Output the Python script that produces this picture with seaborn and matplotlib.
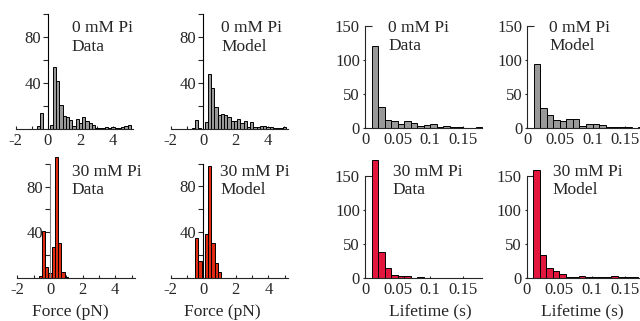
import numpy as np
import pandas as pd
import seaborn as sns
import matplotlib.pyplot as plt

sns.set_style('ticks')
plt.rcParams['font.family'] = ['Liberation Serif', 'DejaVu Serif']
plt.rcParams['font.size'] = 12
plt.rcParams['axes.unicode_minus'] = False

# force histograms, bin centers in pN (bin width 0.2)
force_centers_0 = [-0.6, -0.4, -0.2, 0.0, 0.2, 0.4, 0.6, 0.8, 1.0, 1.2,
                   1.4, 1.6, 1.8, 2.0, 2.2, 2.4, 2.6, 2.8, 3.0, 3.2,
                   3.4, 3.6, 3.8, 4.0, 4.2, 4.4, 4.6, 4.8, 5.0]
force_0_data = [3, 13.5, 0, 0, 3.5, 54, 42, 21, 11.5, 10,
                8, 3, 8.5, 5.5, 10, 7, 5.5, 3.5, 1, 1,
                0.5, 2, 1, 2, 0.5, 1, 2, 2.5, 3.5]
force_0_model = [0.5, 7, 0.5, 0, 5.5, 48, 35, 19, 11.5, 13,
                 11.5, 10, 6.5, 6.5, 8.5, 4.5, 6.5, 1.5, 5.5, 1.5,
                 1.5, 2.5, 2, 1.5, 1, 0.5, 0.5, 0.5, 1]
force_centers_30 = [-0.6, -0.4, -0.2, 0.0, 0.2, 0.4, 0.6, 0.8, 1.0]
force_30_data = [1.5, 41, 10, 4, 27.5, 106, 31, 5, 1]
force_30_model = [0, 35, 15, 0, 38.5, 97.5, 30.5, 12.5, 5]

# lifetime histograms, bin centers in s (bin width 0.01)
life_centers = [0.015, 0.025, 0.035, 0.045, 0.055, 0.065, 0.075, 0.085, 0.095,
                0.105, 0.115, 0.125, 0.135, 0.145, 0.155, 0.165, 0.175]
life_0_data = [120, 31, 12, 10, 6, 10, 8, 4, 5, 7, 2, 3, 2, 2, 1, 0, 2]
life_0_model = [94, 29, 20, 12, 11, 13, 13, 4, 6, 6, 5, 2, 2, 2, 2, 1, 2]
life_30_data = [173, 38, 14, 3.5, 2, 2, 0, 1, 0, 0, 0, 0, 0, 0, 0, 0, 0]
life_30_model = [159, 33, 15, 10, 5, 1, 1, 3, 1, 0.5, 1, 1, 2, 1, 1, 1, 0]

GRAY = '#999999'
FORCE_RED = '#e02a12'
LIFE_RED = '#e3173e'

W, H = 640, 321
fig = plt.figure(figsize=(W / 100, H / 100), dpi=100)


def px_axes(left, top, right, bottom):
    return fig.add_axes([left / W, 1 - bottom / H, (right - left) / W, (bottom - top) / H])


def label_at(ax, text, x, y):
    ax.set_xlabel(text, fontsize=12.5)
    ax.xaxis.set_label_coords(x / W, 1 - y / H, transform=fig.transFigure)


def force_panel(ax, centers, counts, color, spine_color='black'):
    step = 0.2
    sns.histplot(x=centers, weights=counts, bins=len(centers),
                 binrange=(centers[0] - step / 2, centers[-1] + step / 2),
                 color=color, edgecolor='black', linewidth=0.7, alpha=1,
                 clip_on=False, ax=ax)
    ax.set_xlim(-2, 5.2)
    ax.set_ylim(0, 100)
    for s in ['top', 'right']:
        ax.spines[s].set_visible(False)
    ax.spines['left'].set_position(('data', 0))
    ax.spines['left'].set_color(spine_color)
    ax.set_xticks([-2, 0, 2, 4], labels=['-2', '0', '2', '4'])
    ax.set_xticks([-1, 1, 3, 5], minor=True)
    ax.set_yticks([40, 80], labels=['40', '80'])
    ax.set_yticks([20, 60, 100], minor=True)
    ax.tick_params(axis='x', which='both', direction='in', length=2.4, width=0.8, pad=3)
    ax.tick_params(axis='y', which='both', direction='out', length=3.6, width=0.8, pad=1.5)
    ax.set_ylabel('')
    ax.set_xlabel('')


def life_panel(ax, counts, color):
    step = 0.01
    sns.histplot(x=life_centers, weights=counts, bins=len(life_centers),
                 binrange=(life_centers[0] - step / 2, life_centers[-1] + step / 2),
                 color=color, edgecolor='black', linewidth=0.7, alpha=1,
                 clip_on=False, ax=ax)
    ax.set_xlim(0, 0.18)
    ax.set_ylim(0, 150)
    for s in ['top', 'right']:
        ax.spines[s].set_visible(False)
    ax.set_xticks([0, 0.05, 0.1, 0.15], labels=['0', '0.05', '0.1', '0.15'])
    ax.set_yticks([0, 50, 100], labels=['0', '50', '100'])
    ax.set_yticks([150], labels=['150'], minor=True)
    ax.tick_params(axis='x', which='both', direction='in', length=1.8, width=0.8, pad=3)
    ax.tick_params(axis='y', which='major', direction='out', length=1.7, width=0.8, pad=2)
    ax.tick_params(axis='y', which='minor', direction='in', length=4.7, width=0.8, pad=3.7)
    ax.set_ylabel('')
    ax.set_xlabel('')


def note(x, y1, y2, line1, line2):
    fig.text(x / W, 1 - y1 / H, line1, va='baseline', ha='left', fontsize=12.5)
    fig.text(x / W, 1 - y2 / H, line2, va='baseline', ha='left', fontsize=12.5)


ax1 = px_axes(15.5, 14, 132.5, 129)
force_panel(ax1, force_centers_0, force_0_data, GRAY)
note(71.7, 32, 51, '0 mM Pi', 'Data')

ax2 = px_axes(170.5, 14, 287.5, 128.5)
force_panel(ax2, force_centers_0, force_0_model, GRAY)
note(221, 32, 51, '0 mM Pi', 'Model')

ax3 = px_axes(17.4, 163.7, 134.8, 278)
force_panel(ax3, force_centers_30, force_30_data, FORCE_RED, spine_color='#808080')
note(71.7, 176, 194, '30 mM Pi', 'Data')
label_at(ax3, 'Force (pN)', 70, 304)

ax4 = px_axes(170.7, 163.5, 288, 277.7)
force_panel(ax4, force_centers_30, force_30_model, FORCE_RED)
note(220, 176, 194, '30 mM Pi', 'Model')
label_at(ax4, 'Force (pN)', 222, 304)

ax5 = px_axes(365, 25.7, 482.4, 128.3)
life_panel(ax5, life_0_data, GRAY)
note(388.3, 31.7, 50, '0 mM Pi', 'Data')

ax6 = px_axes(527.3, 25.7, 644.7, 128.3)
life_panel(ax6, life_0_model, GRAY)
note(549.3, 31.7, 50, '0 mM Pi', 'Model')

ax7 = px_axes(365, 175.7, 482.4, 277.7)
life_panel(ax7, life_30_data, LIFE_RED)
note(392.7, 176, 193.5, '30 mM Pi', 'Data')
label_at(ax7, 'Lifetime (s)', 430.7, 304)

ax8 = px_axes(526.7, 175.7, 644.1, 277.7)
life_panel(ax8, life_30_model, LIFE_RED)
note(552.7, 176, 193.5, '30 mM Pi', 'Model')
label_at(ax8, 'Lifetime (s)', 582, 304)

fig.savefig('out.png', dpi=100)
